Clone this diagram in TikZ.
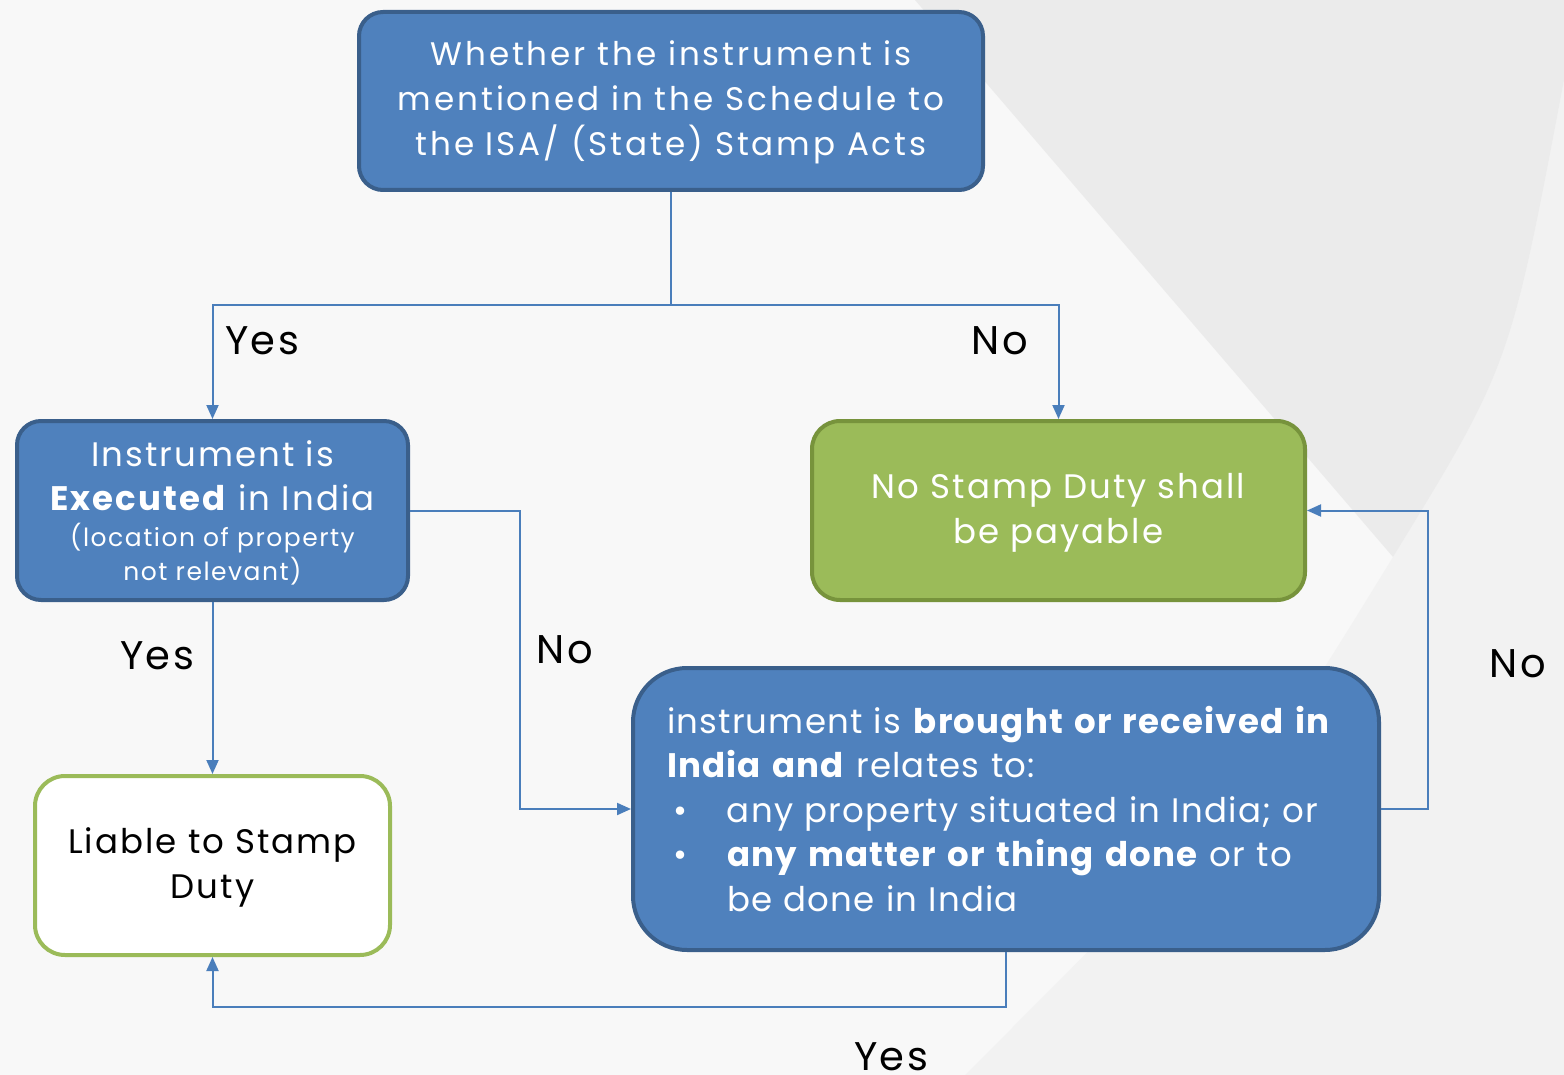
\documentclass[tikz,border=0pt]{standalone}
\usepackage{fontspec}
\setmainfont{Poppins}[LetterSpace=6]
\usetikzlibrary{arrows.meta}
\definecolor{bfill}{HTML}{4F81BD}
\definecolor{bdraw}{HTML}{3A5F8B}
\definecolor{gfill}{HTML}{9BBB59}
\definecolor{gdraw}{HTML}{77933C}
\definecolor{connc}{HTML}{4A7EBB}
\definecolor{bgA}{HTML}{F8F8F8}
\definecolor{bgB}{HTML}{F2F2F2}
\definecolor{bgC}{HTML}{EBEBEB}
\tikzset{
  bluebox/.style={draw=bdraw, fill=bfill, line width=2pt, text=white, align=center, inner sep=0pt},
  greenbox/.style={draw=gdraw, fill=gfill, line width=2pt, text=white, align=center, inner sep=0pt},
  whitebox/.style={draw=gfill, fill=white, line width=2pt, text=black, align=center, inner sep=0pt},
  conn/.style={draw=connc, line width=1pt},
  arr/.style={conn, -{Triangle[length=7pt,width=6pt]}},
  lbl/.style={text=black, font=\fontsize{20}{24}\selectfont, inner sep=0pt}
}
\begin{document}
\begin{tikzpicture}[x=0.5pt,y=-0.5pt]
\useasboundingbox (0,0) rectangle (1564,1075);
% background
\fill[bgA] (0,0) rectangle (1564,1075);
\fill[bgB] (1564,80) .. controls (1510,366) .. (1393,557) .. controls (1250,790) .. (965,1075) -- (1564,1075) -- cycle;
\fill[bgC] (915,0) -- (1393,557) .. controls (1510,366) .. (1564,80) -- (1564,0) -- cycle;

% nodes
\node[bluebox, rounded corners=12pt, minimum width=312pt, minimum height=89pt,
      font=\fontsize{16.3}{22.5}\selectfont\addfontfeatures{LetterSpace=9}] (top) at (671,101)
  {\rule{0pt}{14pt}Whether the instrument is\\mentioned in the Schedule to\\the ISA/ (State) Stamp Acts};

\node[bluebox, rounded corners=12pt, minimum width=195.5pt, minimum height=89.5pt,
      font=\fontsize{17}{22}\selectfont] (exec) at (212.5,510.5)
  {\rule{0pt}{15pt}Instrument is\\\textbf{Executed} in India\\[-4pt]{\fontsize{12.5}{17}\selectfont (location of property}\\[-5pt]{\fontsize{12.5}{17}\selectfont not relevant)}};

\node[greenbox, rounded corners=14pt, minimum width=246.5pt, minimum height=89.5pt,
      font=\fontsize{17}{22.5}\selectfont] (nosd) at (1058.5,510.5)
  {\rule{0pt}{15pt}No Stamp Duty shall\\be payable};

\node[whitebox, rounded corners=15pt, minimum width=177.5pt, minimum height=89.5pt,
      font=\fontsize{17}{22.5}\selectfont] (liable) at (212.5,865.5)
  {\rule{0pt}{15pt}Liable to Stamp\\Duty};

\node[bluebox, rounded corners=27pt, minimum width=373pt, minimum height=141pt,
      align=left, text width=339pt, inner xsep=17pt,
      font=\fontsize{17}{22.25}\selectfont\addfontfeatures{LetterSpace=3.5}] (brought) at (1006,809)
  {instrument is \textbf{brought or received in}\\
   \textbf{India and} relates to:\\
   \makebox[30pt][l]{\hspace{3pt}\textbullet}any property situated in India; or\\
   \makebox[30pt][l]{\hspace{3pt}\textbullet}\textbf{any matter or thing done} or to\\
   \hspace*{30pt}be done in India};

% connectors
\coordinate (split) at (671,305);
\coordinate (c1) at (520,510.5);
\coordinate (c2) at (1428,510.5);
\coordinate (c3) at (1006,1007);
\draw[arr] (top.south) -- (split) -| (exec.north);
\draw[arr] (split) -| (nosd.north);
\draw[arr] (exec.south) -- (liable.north);
\draw[arr] (exec.east) -- (c1) |- (brought.west);
\draw[arr] (brought.east) -| (c2) -- (nosd.east);
\draw[arr] (brought.south) -- (c3) -| (liable.south);

% labels
\node[lbl] (l1) at (262,341) {Yes};
\node[lbl] (l2) at (1000,341) {No};
\node[lbl] (l3) at (157,656) {Yes};
\node[lbl] (l4) at (565,650) {No};
\node[lbl] (l5) at (1518,664) {No};
\node[lbl] (l6) at (891,1057) {Yes};
\end{tikzpicture}
\end{document}
